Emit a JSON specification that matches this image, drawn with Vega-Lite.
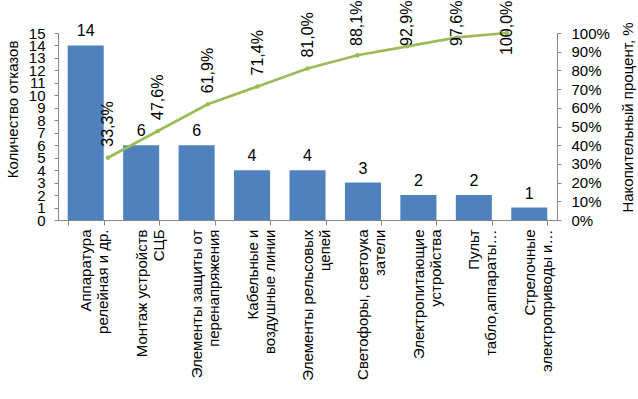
{
  "$schema": "https://vega.github.io/schema/vega-lite/v6.json",
  "width": 499,
  "height": 187,
  "autosize": "none",
  "padding": {"left": 58, "top": 33, "right": 81, "bottom": 179},
  "background": "white",
  "config": {
    "view": {"stroke": null},
    "font": "Liberation Sans",
    "axis": {
      "labelFont": "Liberation Sans",
      "titleFont": "Liberation Sans",
      "labelColor": "#000000",
      "titleColor": "#000000",
      "titleFontWeight": "normal",
      "grid": false,
      "domainColor": "#868686",
      "tickColor": "#868686"
    }
  },
  "data": {
    "values": [
      {"cat": "Аппаратура|релейная и др.", "count": 14, "pct": 0.333, "pctLabel": "33,3%"},
      {"cat": "Монтаж устройств|СЦБ", "count": 6, "pct": 0.476, "pctLabel": "47,6%"},
      {"cat": "Элементы защиты от|перенапряжения", "count": 6, "pct": 0.619, "pctLabel": "61,9%"},
      {"cat": "Кабельные и|воздушные линии", "count": 4, "pct": 0.714, "pctLabel": "71,4%"},
      {"cat": "Элементы рельсовых|цепей", "count": 4, "pct": 0.81, "pctLabel": "81,0%"},
      {"cat": "Светофоры, светоука|затели", "count": 3, "pct": 0.881, "pctLabel": "88,1%"},
      {"cat": "Электропитающие|устройства", "count": 2, "pct": 0.929, "pctLabel": "92,9%"},
      {"cat": "Пульт|табло,аппараты…", "count": 2, "pct": 0.976, "pctLabel": "97,6%"},
      {"cat": "Стрелочные|электроприводы и…", "count": 1, "pct": 1.0, "pctLabel": "100,0%"}
    ]
  },
  "layer": [
    {
      "encoding": {
        "x": {
          "field": "cat",
          "type": "nominal",
          "sort": null,
          "scale": {"paddingInner": 0.35, "paddingOuter": 0.175},
          "axis": {
            "title": null,
            "labelAngle": 270,
            "labelAlign": "right",
            "labelBaseline": "middle",
            "labelExpr": "split(datum.label, '|')",
            "labelFontSize": 15,
            "labelLineHeight": 17,
            "labelLimit": 0,
            "labelOverlap": false,
            "labelPadding": 4,
            "tickSize": 5,
            "tickBand": "extent"
          }
        },
        "y": {
          "field": "count",
          "type": "quantitative",
          "scale": {"domain": [0, 15], "nice": false},
          "axis": {
            "title": "Количество отказов",
            "titleFontSize": 15,
            "titleAngle": 270,
            "titleAlign": "center",
            "titleBaseline": "middle",
            "titleX": -46,
            "titleY": 76,
            "values": [0, 1, 2, 3, 4, 5, 6, 7, 8, 9, 10, 11, 12, 13, 14, 15],
            "labelFontSize": 15,
            "labelOverlap": false,
            "labelPadding": 9,
            "tickSize": 4
          }
        }
      },
      "layer": [
        {"mark": {"type": "bar", "color": "#4F81BD"}},
        {
          "mark": {"type": "text", "baseline": "alphabetic", "dy": -9, "fontSize": 16, "color": "#000000"},
          "encoding": {"text": {"field": "count", "type": "quantitative"}}
        }
      ]
    },
    {
      "encoding": {
        "x": {
          "field": "cat",
          "type": "nominal",
          "sort": null,
          "scale": {"type": "point", "padding": 1.0},
          "axis": null
        },
        "y": {
          "field": "pct",
          "type": "quantitative",
          "scale": {"domain": [0, 1], "nice": false},
          "axis": {
            "orient": "right",
            "title": "Накопительный процент, %",
            "titleFontSize": 15,
            "titleAngle": 270,
            "titleAlign": "center",
            "titleBaseline": "middle",
            "titleX": 70,
            "titleY": 84,
            "values": [0, 0.1, 0.2, 0.3, 0.4, 0.5, 0.6, 0.7, 0.8, 0.9, 1.0],
            "format": ".0%",
            "labelFontSize": 15,
            "labelPadding": 10,
            "tickSize": 4
          }
        }
      },
      "layer": [
        {
          "mark": {
            "type": "line",
            "color": "#9BBB59",
            "strokeWidth": 2.75,
            "point": {"filled": true, "size": 20, "color": "#9BBB59"}
          }
        },
        {
          "mark": {
            "type": "text",
            "angle": 270,
            "align": "left",
            "baseline": "middle",
            "fontSize": 16,
            "color": "#000000",
            "dx": {"expr": "min(11, 187 * (1 - datum.pct) + 32 - 9 * length(datum.pctLabel))"}
          },
          "encoding": {"text": {"field": "pctLabel", "type": "nominal"}}
        }
      ]
    }
  ],
  "resolve": {"scale": {"x": "independent", "y": "independent"}}
}
